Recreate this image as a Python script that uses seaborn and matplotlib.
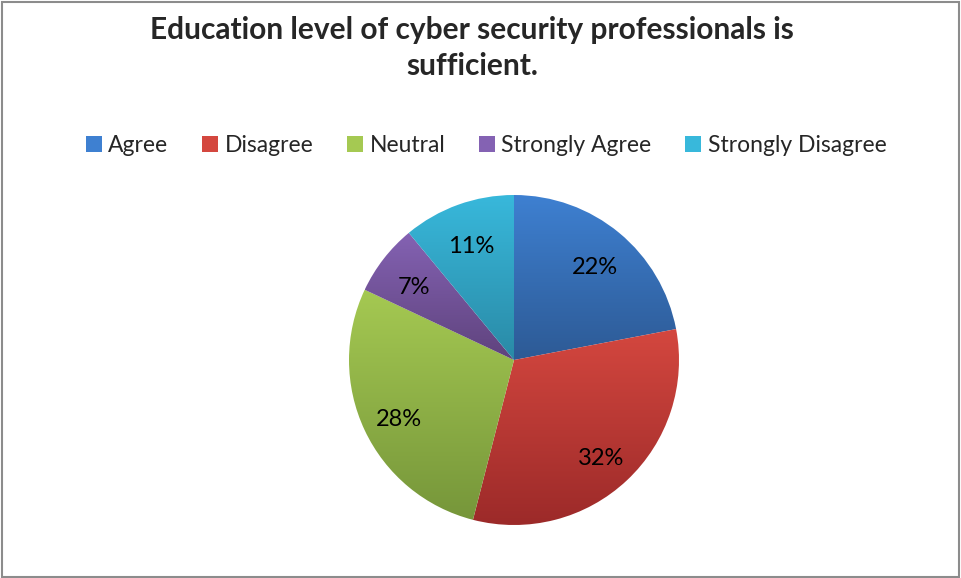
import numpy as np
import matplotlib
matplotlib.use("Agg")
import matplotlib.pyplot as plt
import matplotlib.colors as mcolors
from matplotlib.patches import Patch
import seaborn as sns

categories = ["Agree", "Disagree", "Neutral", "Strongly Agree", "Strongly Disagree"]
shares = [22, 32, 28, 7, 11]
title = "Education level of cyber security professionals is\nsufficient."

# light (top) and dark (bottom) tone for each slice's gradient fill
top_colors = ["#3e80d1", "#d4473f", "#a5c952", "#8462b3", "#38b8db"]
bottom_colors = ["#2d5a95", "#9c2a29", "#76963a", "#5f437d", "#2a8aa6"]

sns.set_theme(style="white")
plt.rcParams["font.family"] = ["Lato", "DejaVu Sans"]

W, H = 961, 578
fig = plt.figure(figsize=(W / 100, H / 100), dpi=100)
fig.patch.set_facecolor("white")

# outer frame of the chart area
fig.add_artist(plt.Rectangle((1.5 / W, 1.5 / H), (W - 4) / W, (H - 3.5) / H,
                             transform=fig.transFigure, fill=False,
                             edgecolor="#8c8c8c", linewidth=1.5))

cx, cy, r = 514, 360, 165
ax = fig.add_axes([(cx - r) / W, (H - cy - r) / H, 2 * r / W, 2 * r / H])
ax.set_xlim(-1, 1)
ax.set_ylim(-1, 1)
ax.set_aspect("equal")
ax.axis("off")

wedges, texts, autotexts = ax.pie(
    shares, startangle=90, counterclock=False, radius=1,
    colors=top_colors, autopct="%1.0f%%", pctdistance=0.77,
    textprops=dict(fontsize=17, color="black"),
    wedgeprops=dict(linewidth=0),
)

# vertical gradient inside each slice, clipped to the slice shape
for w, c_top, c_bot in zip(wedges, top_colors, bottom_colors):
    ext = w.get_path().get_extents()
    cmap = mcolors.LinearSegmentedColormap.from_list("g", [c_bot, c_top])
    grad = np.linspace(0, 1, 256).reshape(-1, 1)
    im = ax.imshow(grad, cmap=cmap, origin="lower", aspect="auto",
                   extent=[ext.x0, ext.x1, ext.y0, ext.y1], zorder=1,
                   interpolation="bilinear")
    im.set_clip_path(w)
    w.set_facecolor("none")
for t in autotexts:
    t.set_zorder(3)
    x, y = t.get_position()
    t.set_position((x, y - 0.035))
ax.set_xlim(-1, 1)
ax.set_ylim(-1, 1)

fig.text(472 / W, 1 - 48 / H, title, ha="center", va="center",
         fontsize=21.5, fontweight="bold", linespacing=1.38)

handles = [Patch(facecolor=c, edgecolor="none") for c in top_colors]
fig.legend(handles, categories, loc="center", bbox_to_anchor=(486 / W, 1 - 145.5 / H),
           ncol=5, frameon=False, fontsize=16.5, handlelength=0.7, handleheight=0.7,
           handletextpad=0.3, columnspacing=1.45)

fig.savefig("out.png", dpi=100)
